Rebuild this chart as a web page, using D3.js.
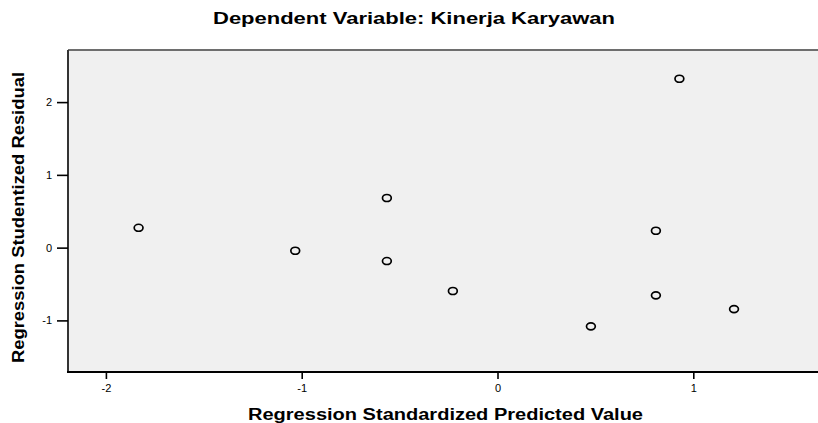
<!DOCTYPE html>
<html>
<head>
<meta charset="utf-8">
<script src="https://cdn.jsdelivr.net/npm/d3@7"></script>
<style>
  body { margin: 0; background: #fff; }
  svg { display: block; font-family: Arial, "Liberation Sans", sans-serif; }
</style>
</head>
<body>
<svg id="chart" width="818" height="423"></svg>
<script>
// Standardized predicted values (x) and studentized residuals (y)
var predicted = [-1.833, -1.033, -0.565, -0.565, -0.228, 0.477, 0.809, 0.809, 0.929, 1.208];
var residuals = [0.273, -0.043, -0.184, 0.682, -0.596, -1.081, 0.232, -0.655, 2.321, -0.844];
var xTicks = [-2, -1, 0, 1];
var yTicks = [-1, 0, 1, 2];

var svg = d3.select("#chart");
var width = +svg.attr("width"),
    height = +svg.attr("height");

// plot box (right side runs off the picture)
var plot = { left: 68, top: 50, right: 830, bottom: 372 };

var x = d3.scaleLinear().domain([-2, 1]).range([105.9, 693.3]);
var y = d3.scaleLinear().domain([-1, 2]).range([320.4, 102.1]);

// plain hyphen labels like the original
var fmt = function(d) { return String(d); };

svg.append("rect")
    .attr("x", plot.left)
    .attr("y", plot.top)
    .attr("width", plot.right - plot.left)
    .attr("height", plot.bottom - plot.top)
    .attr("fill", "#f0f0f0");

// frame: top grey, left dark, bottom black
svg.append("line")
    .attr("x1", plot.left).attr("x2", plot.right)
    .attr("y1", plot.top).attr("y2", plot.top)
    .attr("stroke", "#6e6e6e").attr("stroke-width", 2);
svg.append("line")
    .attr("x1", plot.left).attr("x2", plot.left)
    .attr("y1", plot.top).attr("y2", plot.bottom)
    .attr("stroke", "#333").attr("stroke-width", 2);

// axes
var xAxis = svg.append("g")
    .attr("transform", "translate(0," + plot.bottom + ")")
    .call(d3.axisBottom(x).tickValues(xTicks).tickFormat(fmt)
        .tickSize(7).tickSizeOuter(0).tickPadding(5));
xAxis.select(".domain").remove();
xAxis.append("line")
    .attr("x1", plot.left - 1).attr("x2", plot.right)
    .attr("stroke", "#000").attr("stroke-width", 2);

var yAxis = svg.append("g")
    .attr("transform", "translate(" + plot.left + ",0)")
    .call(d3.axisLeft(y).tickValues(yTicks).tickFormat(fmt)
        .tickSize(11).tickPadding(5));
yAxis.select(".domain").remove();

svg.selectAll(".tick line").attr("stroke", "#000").attr("stroke-width", 1.6);
svg.selectAll(".tick text")
    .attr("fill", "#000")
    .style("font-size", "11px");

// points
svg.append("g")
    .selectAll("ellipse")
    .data(predicted)
    .enter()
    .append("ellipse")
    .attr("cx", function(d) { return x(d); })
    .attr("cy", function(d, i) { return y(residuals[i]); })
    .attr("rx", 4.4)
    .attr("ry", 3.5)
    .attr("fill", "none")
    .attr("stroke", "#000")
    .attr("stroke-width", 1.7);

// titles
svg.append("text")
    .attr("x", 414).attr("y", 24)
    .attr("text-anchor", "middle")
    .attr("textLength", 402)
    .attr("lengthAdjust", "spacingAndGlyphs")
    .style("font-size", "16px").style("font-weight", "bold")
    .text("Dependent Variable: Kinerja Karyawan");

svg.append("text")
    .attr("x", 445.5).attr("y", 420)
    .attr("text-anchor", "middle")
    .attr("textLength", 395)
    .attr("lengthAdjust", "spacingAndGlyphs")
    .style("font-size", "16px").style("font-weight", "bold")
    .text("Regression Standardized Predicted Value");

svg.append("text")
    .attr("transform", "translate(24,217.5) rotate(-90)")
    .attr("text-anchor", "middle")
    .attr("textLength", 291)
    .attr("lengthAdjust", "spacingAndGlyphs")
    .style("font-size", "16px").style("font-weight", "bold")
    .text("Regression Studentized Residual");
</script>
</body>
</html>
